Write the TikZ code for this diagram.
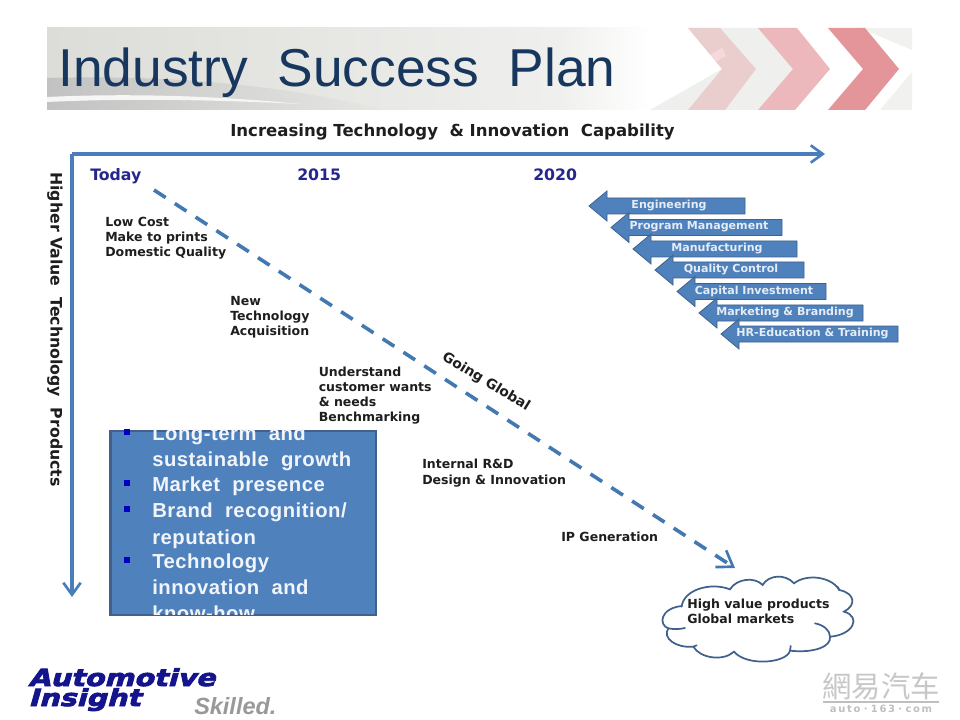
\documentclass[tikz,border=0pt]{standalone}
\usepackage{fontspec}
\setmainfont{Liberation Sans}
\newfontfamily\vfont{DejaVu Sans}
\newfontfamily\boxfont[LetterSpace=2.5]{Liberation Sans}
\newfontfamily\cjkfont{Noto Sans CJK TC}
\newfontfamily\logofont[FakeSlant=0.28,FakeStretch=1.22,FakeBold=3.5]{DejaVu Sans Bold}
\usetikzlibrary{arrows.meta,calc}
\definecolor{navytitle}{HTML}{17375E}
\definecolor{axisblue}{HTML}{4A7EBB}
\definecolor{goblue}{HTML}{4279B0}
\definecolor{boxblue}{HTML}{4F81BD}
\definecolor{boxedge}{HTML}{3F618C}
\definecolor{inkdark}{HTML}{1E1E1E}
\definecolor{yearblue}{HTML}{26268C}
\definecolor{chev}{HTML}{E08A8E}
\definecolor{bandgray}{HTML}{DCDCD8}
\definecolor{logoblue}{HTML}{14148C}
\tikzset{
  labeltext/.style={font=\vfont\bfseries\fontsize{9.4}{11.4}\selectfont,text=inkdark,align=left,anchor=west,inner sep=0pt},
  headtext/.style={font=\vfont\bfseries\fontsize{12.4}{14}\selectfont,text=inkdark,inner sep=0pt},
  sidetext/.style={font=\vfont\bfseries\fontsize{11.8}{14}\selectfont,text=inkdark,inner sep=0pt},
  yeartext/.style={font=\vfont\bfseries\fontsize{11.8}{14}\selectfont,text=yearblue,inner sep=0pt,anchor=base west},
  arrowtext/.style={font=\vfont\bfseries\fontsize{8.3}{10}\selectfont,text=white!85!boxblue,inner sep=0pt},
  boxtext/.style={font=\boxfont\bfseries\fontsize{15.2}{18}\selectfont,text=white!92!boxblue,anchor=base west,inner sep=0pt},
  bulletmark/.style={fill=blue!75!black,draw=none,minimum size=4.4pt,inner sep=0pt},
  blockarrow/.style={fill=boxblue,draw=boxedge,line width=0.6pt,line join=miter},
  axisline/.style={draw=axisblue,line width=2.4pt,line join=round},
  goline/.style={draw=goblue,line width=2.7pt,dash pattern=on 10.4pt off 8.2pt},
}
\begin{document}
\begin{tikzpicture}[x=0.75pt,y=-0.75pt]
\useasboundingbox (0,0) rectangle (960,720);
\fill[white] (0,0) rectangle (960,720);
% header band
\shade[left color=bandgray,right color=bandgray!45] (47,28) rectangle (560,110);
\shade[left color=bandgray!45,right color=white] (560,28) rectangle (650,110);
\fill[white] (650,28) rectangle (912,110);
\shade[left color=black!24,right color=bandgray!70] (47,78) .. controls (200,74) and (300,90) .. (385,110) -- (47,110) -- cycle;
\fill[white!75!bandgray] (47,97) .. controls (130,93) and (220,96) .. (300,104) .. controls (220,100) and (130,98) .. (47,102) -- cycle;
\fill[bandgray!45] (650,110) -- (722,69) -- (688,28) -- (758,28) -- (793,69) -- (758,110) -- cycle;
\fill[white] (672,76) -- (722,48) -- (726,56) -- (676,84) -- cycle;
\fill[bandgray!40] (860,28) -- (912,28) -- (912,50) -- cycle;
\fill[bandgray!40] (880,110) -- (912,110) -- (912,72) -- cycle;
\fill[chev,opacity=.32] (688,28) -- (720,28) -- (756,69) -- (725,110) -- (688,110) -- (722,69) -- cycle;
\fill[chev,opacity=.6] (758,28) -- (797,28) -- (830,69) -- (795,110) -- (758,110) -- (793,69) -- cycle;
\fill[chev,opacity=.9] (828,28) -- (865,28) -- (899,69) -- (865,110) -- (828,110) -- (863,69) -- cycle;
\node[font=\fontsize{40}{44}\selectfont,text=navytitle,anchor=base west,inner sep=0pt] (title) at (58,87) {Industry\ \ Success\ \ Plan};
% axes
\coordinate (corner) at (72,154);
\coordinate (xend) at (825,154);
\coordinate (yend) at (72,597);
\draw[axisline,-{Straight Barb[length=9pt,width=13pt,line width=2pt]}] (corner) -- (xend);
\draw[axisline,-{Straight Barb[length=9pt,width=13pt,line width=2pt]}] (corner) -- (yend);
\node[headtext] (xlabel) at (452.5,132) {Increasing Technology\ \ \& Innovation\ \ Capability};
\node[sidetext,rotate=-90] (ylabel) at (55,329.5) {Higher Value\ \ Technology\ \ Products};
\node[yeartext] (today) at (90,181) {Today};
\node[yeartext] (y2015) at (297,181) {2015};
\node[yeartext] (y2020) at (533,181) {2020};
% dashed trajectory
\coordinate (gostart) at (154,190);
\coordinate (goend) at (735,568);
\draw[goline,-{Straight Barb[length=11pt,width=15pt,line width=2pt]}] (gostart) -- (goend);
\node[labeltext,anchor=center,rotate=-31.4,font=\vfont\bfseries\fontsize{10.4}{12}\selectfont] (going) at (486,382) {Going Global};
% stage labels
\node[labeltext] (s1) at (105,238.5) {Low Cost\\Make to prints\\Domestic Quality};
\node[labeltext] (s2) at (230,317) {New\\Technology\\Acquisition};
\node[labeltext] (s3) at (318.5,395.5) {Understand\\customer wants\\\& needs\\Benchmarking};
\node[labeltext] (s4) at (422,473) {Internal R\&D\\Design \& Innovation};
\node[labeltext] (s5) at (561,537) {IP Generation};
% capability arrows
\foreach \tipx/\cy/\rx/\tx/\lab in {
  589/206/745/669/Engineering,
  611/227.5/782/699/Program Management,
  633/249/797/717/Manufacturing,
  655/270/804/731/Quality Control,
  677/291.5/826/754/Capital Investment,
  699/313/863/785/Marketing \& Branding,
  721/334/898/812.5/HR-Education \& Training}{
  \draw[blockarrow] (\tipx,\cy) -- ++(18,-15) -- ++(0,7) -- (\rx,\cy-8) -- (\rx,\cy+8) -- (\tipx+18,\cy+8) -- ++(0,7) -- cycle;
  \node[arrowtext] (cap\tipx) at (\tx,\cy-0.5) {\lab};
}
% blue box
\fill[boxblue,draw=boxedge,line width=2pt] (110.5,431) rectangle (376,615);
\begin{scope}
\clip (108,429) rectangle (378,614);
\node[boxtext] (b1) at (152,440) {Long-term\ \ and};
\node[boxtext] (b2) at (152,466) {sustainable\ \ growth};
\node[boxtext] (b3) at (152,491) {Market\ \ presence};
\node[boxtext] (b4) at (152,517) {Brand\ \ recognition/};
\node[boxtext] (b5) at (152,544) {reputation};
\node[boxtext] (b6) at (152,568) {Technology};
\node[boxtext] (b7) at (152,594) {innovation\ \ and};
\node[boxtext] (b8) at (152,620) {know-how};
\node[bulletmark] (m1) at (127,432) {};
\node[bulletmark] (m2) at (127,483) {};
\node[bulletmark] (m3) at (127,509) {};
\node[bulletmark] (m4) at (127,560) {};
\end{scope}
% cloud
\begin{scope}[shift={(640,540)},x=0.25pt,y=-0.25pt]
\draw[fill=white,draw=boxedge,line width=1.3pt,line cap=round]
  (125,200) .. controls (130,150) and (210,125) .. (270,148)
  .. controls (290,115) and (345,110) .. (368,135)
  .. controls (385,105) and (435,100) .. (462,130)
  .. controls (500,100) and (575,110) .. (598,150)
  .. controls (645,160) and (650,195) .. (612,215)
  .. controls (665,230) and (640,285) .. (570,290)
  .. controls (575,320) and (520,340) .. (450,332)
  .. controls (440,370) and (320,380) .. (282,335)
  .. controls (250,365) and (180,355) .. (160,320)
  .. controls (110,325) and (65,295) .. (85,265)
  .. controls (55,255) and (60,205) .. (125,198);
\draw[draw=boxedge,line width=1.3pt,line cap=round] (525,250) .. controls (550,255) and (570,270) .. (570,290);
\draw[draw=boxedge,line width=1.3pt,line cap=round] (85,265) .. controls (100,268) and (120,268) .. (135,264);
\draw[draw=boxedge,line width=1.3pt,line cap=round] (160,320) -- (170,316);
\draw[draw=boxedge,line width=1.3pt,line cap=round] (450,332) -- (452,318);
\draw[draw=boxedge,line width=1.3pt,line cap=round] (598,150) -- (592,140);
\end{scope}
\node[labeltext] (cloudtext) at (687,611.5) {High value products\\Global markets};
% logo
\node[font=\logofont\fontsize{17.6}{20}\selectfont,text=logoblue,anchor=base west,inner sep=0pt] (logoa) at (28,686) {Automotive};
\node[font=\logofont\fontsize{17.6}{20}\selectfont,text=logoblue,anchor=base west,inner sep=0pt] (logob) at (28,706) {Insight};
\node[font=\itshape\bfseries\fontsize{17.6}{20}\selectfont,text=black!40,anchor=base west,inner sep=0pt] (skilled) at (194,714) {Skilled.};
% watermark
\node[font=\cjkfont\fontsize{22}{24}\selectfont,text=black!22,anchor=center,inner sep=0pt] (wm) at (881,686) {網易汽车};
\coordinate (wml) at (823,702);
\coordinate (wmr) at (939,702);
\draw[black!25,line width=0.8pt] (wml) -- (wmr);
\node[font=\vfont\bfseries\fontsize{7.5}{9}\selectfont,text=black!25,inner sep=0pt] (wm2) at (881,709) {a\,u\,t\,o\,\,·\,\,1\,6\,3\,\,·\,\,c\,o\,m};
\end{tikzpicture}
\end{document}
